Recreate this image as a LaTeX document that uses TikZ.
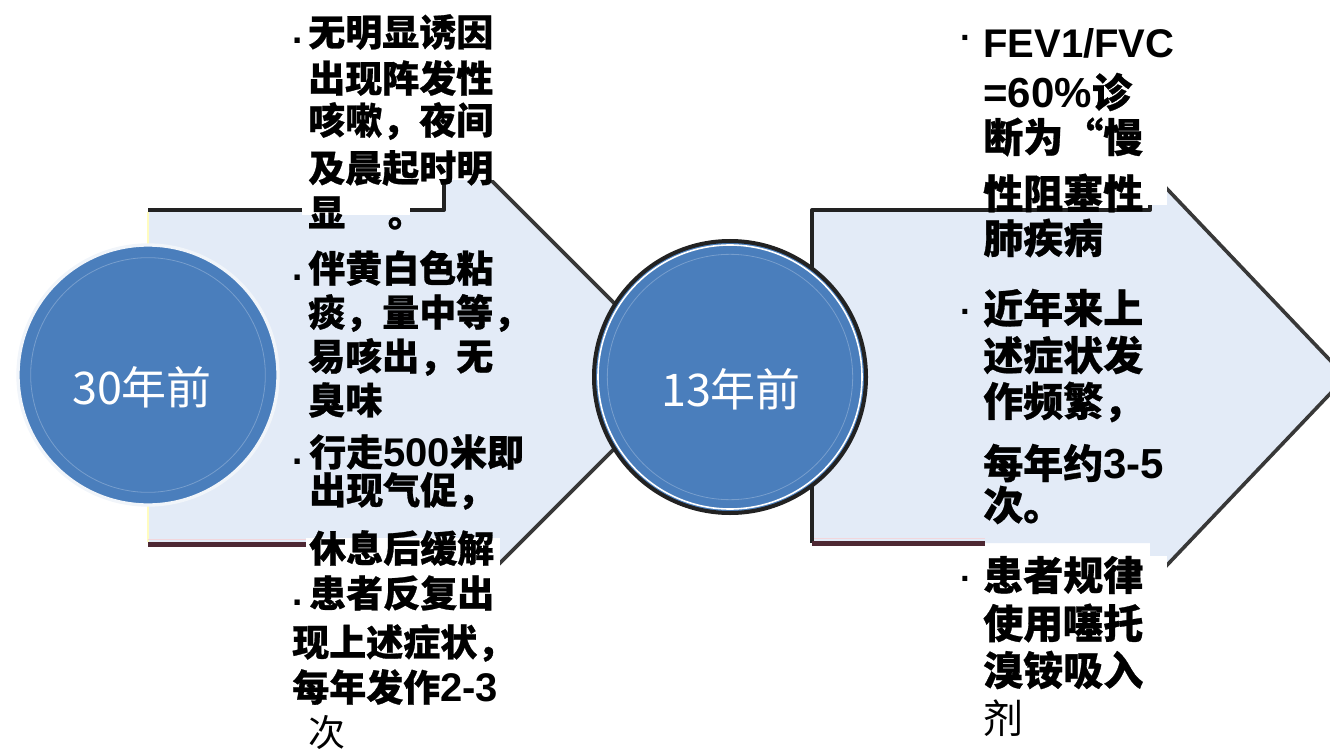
\documentclass[tikz,border=0pt]{standalone}
\usepackage{fontspec}
\newfontfamily\cjk{Noto Sans CJK SC}[BoldFeatures={FakeBold=0.7}]
\newfontfamily\lat{Liberation Sans}
\definecolor{arrowfill}{HTML}{E3EBF7}
\definecolor{circblue}{HTML}{4A7EBC}
\definecolor{botred}{HTML}{4E2833}
\definecolor{edgedark}{HTML}{222222}
\definecolor{pinkline}{HTML}{F2D6DC}
\begin{document}
\begin{tikzpicture}[x=0.75pt,y=-0.75pt,
  lt/.style={anchor=west, inner sep=0pt, text=black, font=\cjk\bfseries\fontsize{27.75}{30}\selectfont},
  rt/.style={anchor=west, inner sep=0pt, text=black, font=\cjk\bfseries\fontsize{30}{32}\selectfont},
  lbul/.style={anchor=base west, inner sep=0pt, font=\lat\bfseries\fontsize{27.75}{30}\selectfont},
  rbul/.style={anchor=base, inner sep=0pt, font=\lat\bfseries\fontsize{26}{28}\selectfont},
  ctext/.style={inner sep=0pt, text=white, font=\cjk\fontsize{33.75}{36}\selectfont},
  topedge/.style={draw=edgedark, line width=3pt, line join=round},
  diagedge/.style={draw=edgedark!90!white, line width=2.7pt, line join=miter},
  botedge/.style={draw=botred, line width=3.75pt},
  whitebox/.style={fill=white, draw=none}]
\useasboundingbox (0,0) rectangle (1330,752);

% ---------- arrow 1 ----------
\fill[arrowfill] (148,210) -- (444,210) -- (444,133) -- (687,376) -- (444,619) -- (444,544) -- (148,544) -- cycle;
\draw[yellow!25!white, line width=1.5pt] (148,212) -- (148,542);
\draw[topedge] (148,210) -- (444,210) -- (444,133);
\draw[diagedge] (444,133) -- (687,376) -- (444,619);
\draw[pinkline, line width=1pt] (148,539.5) -- (444,539.5);
\draw[botedge] (148,544) -- (444,544);

% ---------- arrow 2 ----------
\fill[arrowfill] (812,210) -- (1150,210) -- (1150,171) -- (1346,377) -- (1150,583) -- (1150,543) -- (812,543) -- cycle;
\draw[topedge] (812,543) -- (812,210) -- (1150,210) -- (1150,171);
\draw[diagedge] (1150,171) -- (1346,377) -- (1150,583);
\draw[pinkline, line width=1pt] (814,538.5) -- (985,538.5);
\draw[botedge] (812,543) -- (985,543);

% ---------- circles ----------
\node[circle, fill=circblue, draw=white!92!circblue, line width=2.5pt, minimum size=195pt, inner sep=0pt] (c1) at (148,375) {};
\draw[circblue!75!white, line width=0.6pt] (c1.center) circle[radius=88pt];
\node[circle, fill=circblue, draw=edgedark, line width=3pt, minimum size=204pt, inner sep=0pt] (c2) at (730,377) {};
\draw[white, line width=1.2pt] (c2.center) circle[radius=99pt];
\draw[circblue!75!white, line width=0.6pt] (c2.center) circle[radius=92pt];
\node[ctext] (t1) at (142,387) {30年前};
\node[ctext] (t2) at (731,389) {13年前};

% ---------- white text backgrounds ----------
\fill[whitebox] (285,0) rectangle (507,180);
\fill[whitebox] (302,204) rectangle (410,215);
\fill[whitebox] (306,538) rectangle (500,570);
\fill[whitebox] (283,568) rectangle (535,752);
\fill[whitebox] (958,0) rectangle (1167,205);
\fill[whitebox] (958,556) rectangle (1167,752);

% ---------- left text ----------
\node[lbul] (lb1) at (292,44) {.};
\node[lt] (l1) at (308,32) {无明显诱因};
\node[lt] (l2) at (308,78) {出现阵发性};
\node[lt] (l3) at (308,121) {咳嗽，夜间};
\node[lt] (l4) at (308,168) {及晨起时明};
\node[lt] (l5) at (308,213) {显\hspace{1.15em}。};
\node[lbul] (lb2) at (292,280) {.};
\node[lt] (l6) at (308,268) {伴黄白色粘};
\node[lt] (l7) at (308,313) {痰，量中等，};
\node[lt] (l8) at (308,357) {易咳出，无};
\node[lt] (l9) at (308,400) {臭味};
\node[lbul] (lb3) at (292,464) {.};
\node[lt] (l10) at (309,452) {行走{\lat\fontsize{30}{32}\selectfont 500}米即};
\node[lt] (l11) at (309,491) {出现气促，};
\node[lt] (l12) at (309,548) {休息后缓解};
\node[lbul] (lb4) at (292,605) {.};
\node[lt] (l13) at (309,593) {患者反复出};
\node[lt] (l14) at (292,643) {现上述症状，};
\node[lt] (l15) at (292,687) {每年发作{\lat\fontsize{30}{32}\selectfont 2-3}};
\node[lt, font=\cjk\mdseries\fontsize{27.75}{30}\selectfont] (l16) at (308,733) {次};

% ---------- right text ----------
\node[rbul] (rb1) at (966,50) {·};
\node[rt] (r1) at (983,43) {{\lat FEV1/FVC}};
\node[rt] (r2) at (983,92) {{\lat\fontsize{31.5}{33}\selectfont =60\%}诊};
\node[rt] (r3) at (983,137) {断为“慢};
\node[rt] (r4) at (983,193) {性阻塞性};
\node[rt] (r5) at (983,238) {肺疾病};
\node[rbul] (rb2) at (966,323) {·};
\node[rt] (r6) at (983,308) {近年来上};
\node[rt] (r7) at (983,355) {述症状发};
\node[rt] (r8) at (983,402) {作频繁，};
\node[rt] (r9) at (983,463) {每年约{\lat\fontsize{31.5}{33}\selectfont 3-5}};
\node[rt] (r10) at (983,505) {次。};
\node[rbul] (rb3) at (966,590) {·};
\node[rt] (r11) at (983,575) {患者规律};
\node[rt] (r12) at (983,623) {使用噻托};
\node[rt] (r13) at (983,670) {溴铵吸入};
\node[rt, font=\cjk\mdseries\fontsize{30}{32}\selectfont] (r14) at (983,718) {剂};
\end{tikzpicture}
\end{document}
